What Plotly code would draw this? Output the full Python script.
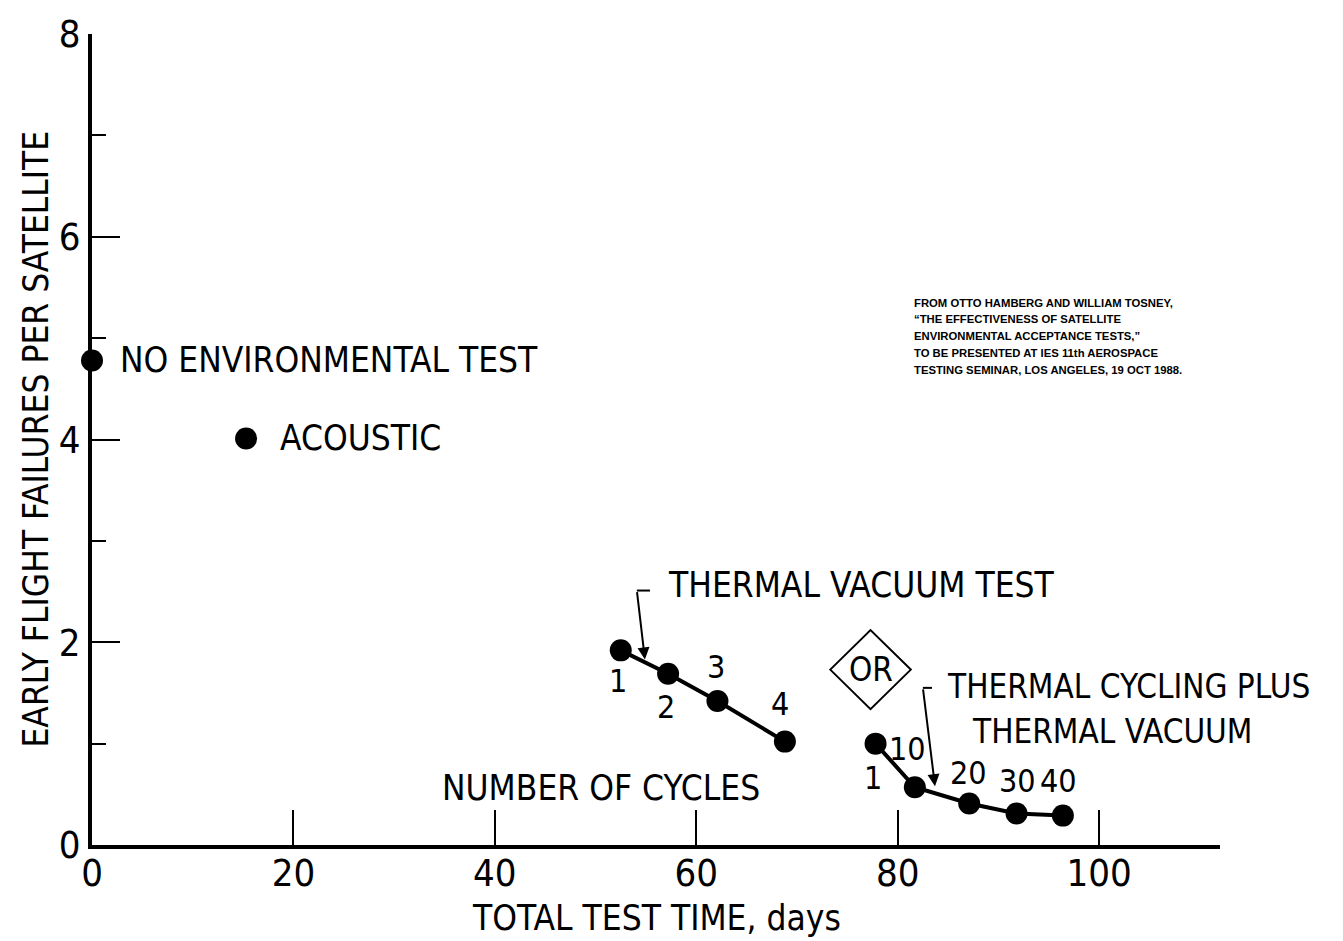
import plotly.graph_objects as go

# Single-test points
no_env_x = [0.0]
no_env_y = [4.78]
acoustic_x = [15.3]
acoustic_y = [4.01]

# Thermal vacuum test, 1-4 cycles
tv_x = [52.5, 57.2, 62.1, 68.8]
tv_y = [1.92, 1.69, 1.42, 1.02]
tv_cycles = ["1", "2", "3", "4"]

# Thermal cycling plus thermal vacuum, 1-40 cycles
tc_x = [77.8, 81.7, 87.1, 91.8, 96.4]
tc_y = [1.00, 0.57, 0.41, 0.31, 0.29]
tc_cycles = ["1", "10", "20", "30", "40"]

x_ticks = [0, 20, 40, 60, 80, 100]
y_ticks = [0, 2, 4, 6, 8]

source_lines = [
    "FROM OTTO HAMBERG AND WILLIAM TOSNEY,",
    "\u201cTHE EFFECTIVENESS OF SATELLITE",
    "ENVIRONMENTAL ACCEPTANCE TESTS,\u201d",
    "TO BE PRESENTED AT IES 11th AEROSPACE",
    "TESTING SEMINAR, LOS ANGELES, 19 OCT 1988.",
]

FONT = "DejaVu Sans Condensed, Liberation Sans Narrow, sans-serif"
INK = "#000000"
LBL = 35
NUM = 32

fig = go.Figure()

marker = dict(size=22, color=INK)
fig.add_trace(go.Scatter(x=no_env_x, y=no_env_y, mode="markers", marker=marker,
                         cliponaxis=False, showlegend=False))
fig.add_trace(go.Scatter(x=acoustic_x, y=acoustic_y, mode="markers", marker=marker,
                         cliponaxis=False, showlegend=False))
fig.add_trace(go.Scatter(x=tv_x, y=tv_y, mode="lines+markers", marker=marker,
                         line=dict(color=INK, width=4), cliponaxis=False, showlegend=False))
fig.add_trace(go.Scatter(x=tc_x, y=tc_y, mode="lines+markers", marker=marker,
                         line=dict(color=INK, width=4), cliponaxis=False, showlegend=False))

ann = []


def text(x, y, s, size=LBL, xanchor="left", family=FONT, **kw):
    ann.append(dict(x=x, y=y, text=s, showarrow=False, xanchor=xanchor, yanchor="middle",
                    font=dict(family=family, size=size, color=INK), **kw))


# Series labels
text(2.6, 4.78, "NO ENVIRONMENTAL TEST")
text(18.5, 4.01, "ACOUSTIC")
text(57.0, 2.56, "THERMAL VACUUM TEST")
text(84.7, 1.56, "THERMAL CYCLING PLUS", size=33)
text(87.2, 1.12, "THERMAL VACUUM", size=33)
text(50.5, 0.56, "NUMBER OF CYCLES", xanchor="center")
text(77.3, 1.73, "OR", xanchor="center", size=33)

# Cycle counts beside the points
tv_label_pos = [(52.2, 1.62), (57.0, 1.36), (62.0, 1.76), (68.3, 1.39)]
for (lx, ly), s in zip(tv_label_pos, tv_cycles):
    text(lx, ly, s, size=NUM, xanchor="center")
tc_label_pos = [(77.5, 0.66), (81.0, 0.95), (87.0, 0.71), (91.9, 0.63), (96.0, 0.63)]
for (lx, ly), s in zip(tc_label_pos, tc_cycles):
    text(lx, ly, s, size=NUM, xanchor="center")

# Leader arrows
for (x0, y0, x1, y1) in [(54.1, 2.51, 54.9, 1.83), (82.5, 1.55, 83.7, 0.58)]:
    ann.append(dict(x=x1, y=y1, ax=x0, ay=y0, axref="x", ayref="y", text="",
                    showarrow=True, arrowhead=2, arrowsize=1.2, arrowwidth=2,
                    arrowcolor=INK, standoff=0))

# Axis titles
ann.append(dict(x=-0.0505, y=0.5, xref="paper", yref="paper", text="EARLY FLIGHT FAILURES PER SATELLITE",
                textangle=-90, showarrow=False, xanchor="center", yanchor="middle",
                font=dict(family=FONT, size=LBL, color=INK)))
ann.append(dict(x=0.5, y=-0.0905, xref="paper", yref="paper", text="TOTAL TEST TIME, days",
                showarrow=False, xanchor="center", yanchor="middle",
                font=dict(family=FONT, size=LBL, color=INK)))

# Source note, one line per annotation for looser leading
for i, line in enumerate(source_lines):
    text(81.4, 5.35 - i * 0.166, "<b>" + line + "</b>", size=11.3,
         family="Liberation Sans, Arial, sans-serif")

shapes = [
    # bracket tops of the leader arrows
    dict(type="line", x0=54.1, y0=2.51, x1=55.4, y1=2.51, line=dict(color=INK, width=2)),
    dict(type="line", x0=82.5, y0=1.55, x1=83.4, y1=1.55, line=dict(color=INK, width=2)),
    # diamond around "OR"
    dict(type="path", path="M 73.3 1.73 L 77.3 2.12 L 81.3 1.73 L 77.3 1.34 Z",
         line=dict(color=INK, width=2)),
]

fig.update_layout(
    width=1343, height=941,
    margin=dict(l=92, r=123, t=25, b=96),
    paper_bgcolor="white", plot_bgcolor="white",
    annotations=ann, shapes=shapes,
    font=dict(family=FONT, color=INK),
    xaxis=dict(range=[0, 112], tickvals=x_ticks, ticks="inside", ticklen=35, tickwidth=2,
               tickcolor=INK, showline=True, linewidth=4, linecolor=INK, showgrid=False,
               zeroline=False, ticklabelstandoff=-9,
               tickfont=dict(family=FONT, size=38, color=INK)),
    yaxis=dict(range=[0, 8], tickvals=y_ticks, ticks="inside", ticklen=28, tickwidth=2,
               tickcolor=INK, showline=True, linewidth=4, linecolor=INK, showgrid=False,
               zeroline=False, tickfont=dict(family=FONT, size=38, color=INK),
               minor=dict(tickvals=[1, 3, 5, 7], ticks="inside", ticklen=14, tickwidth=2,
                          tickcolor=INK)),
)

fig.write_html("out.html")
